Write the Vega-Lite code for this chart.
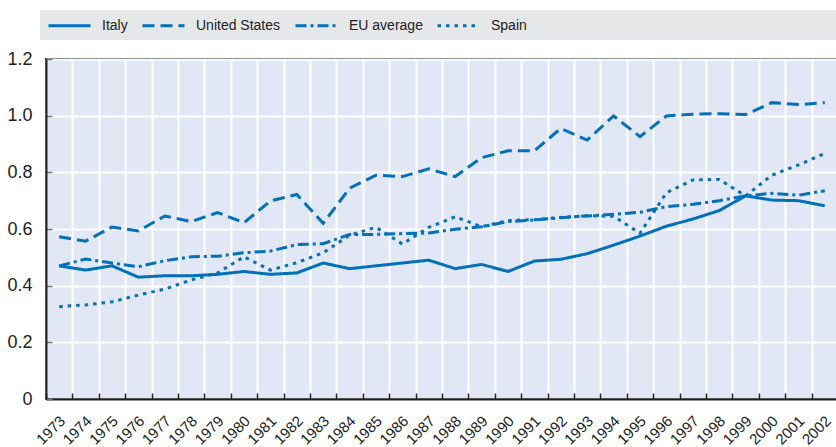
{
 "$schema": "https://vega.github.io/schema/vega-lite/v6.json",
 "width": 792,
 "height": 340,
 "autosize": {"type": "none"},
 "padding": {"left": 46, "top": 59, "right": 0, "bottom": 48},
 "background": "white",
 "config": {
  "font": "Liberation Sans",
  "view": {"fill": "#e1e7f4", "stroke": "#231f20", "strokeWidth": 2}
 },
 "datasets": {
  "d": [
   {"year":1973,"series":"Italy","value":0.47},{"year":1974,"series":"Italy","value":0.455},{"year":1975,"series":"Italy","value":0.47},{"year":1976,"series":"Italy","value":0.43},{"year":1977,"series":"Italy","value":0.435},{"year":1978,"series":"Italy","value":0.435},{"year":1979,"series":"Italy","value":0.44},{"year":1980,"series":"Italy","value":0.45},{"year":1981,"series":"Italy","value":0.44},{"year":1982,"series":"Italy","value":0.445},{"year":1983,"series":"Italy","value":0.48},{"year":1984,"series":"Italy","value":0.46},{"year":1985,"series":"Italy","value":0.47},{"year":1986,"series":"Italy","value":0.48},{"year":1987,"series":"Italy","value":0.49},{"year":1988,"series":"Italy","value":0.46},{"year":1989,"series":"Italy","value":0.475},{"year":1990,"series":"Italy","value":0.45},{"year":1991,"series":"Italy","value":0.487},{"year":1992,"series":"Italy","value":0.493},{"year":1993,"series":"Italy","value":0.513},{"year":1994,"series":"Italy","value":0.543},{"year":1995,"series":"Italy","value":0.575},{"year":1996,"series":"Italy","value":0.61},{"year":1997,"series":"Italy","value":0.635},{"year":1998,"series":"Italy","value":0.665},{"year":1999,"series":"Italy","value":0.717},{"year":2000,"series":"Italy","value":0.702},{"year":2001,"series":"Italy","value":0.70},{"year":2002,"series":"Italy","value":0.682},
   {"year":1973,"series":"United States","value":0.573},{"year":1974,"series":"United States","value":0.557},{"year":1975,"series":"United States","value":0.607},{"year":1976,"series":"United States","value":0.593},{"year":1977,"series":"United States","value":0.646},{"year":1978,"series":"United States","value":0.626},{"year":1979,"series":"United States","value":0.658},{"year":1980,"series":"United States","value":0.622},{"year":1981,"series":"United States","value":0.699},{"year":1982,"series":"United States","value":0.722},{"year":1983,"series":"United States","value":0.62},{"year":1984,"series":"United States","value":0.744},{"year":1985,"series":"United States","value":0.79},{"year":1986,"series":"United States","value":0.785},{"year":1987,"series":"United States","value":0.812},{"year":1988,"series":"United States","value":0.785},{"year":1989,"series":"United States","value":0.852},{"year":1990,"series":"United States","value":0.876},{"year":1991,"series":"United States","value":0.876},{"year":1992,"series":"United States","value":0.955},{"year":1993,"series":"United States","value":0.914},{"year":1994,"series":"United States","value":0.999},{"year":1995,"series":"United States","value":0.926},{"year":1996,"series":"United States","value":0.999},{"year":1997,"series":"United States","value":1.005},{"year":1998,"series":"United States","value":1.007},{"year":1999,"series":"United States","value":1.004},{"year":2000,"series":"United States","value":1.046},{"year":2001,"series":"United States","value":1.039},{"year":2002,"series":"United States","value":1.046},
   {"year":1973,"series":"EU average","value":0.47},{"year":1974,"series":"EU average","value":0.494},{"year":1975,"series":"EU average","value":0.48},{"year":1976,"series":"EU average","value":0.467},{"year":1977,"series":"EU average","value":0.488},{"year":1978,"series":"EU average","value":0.502},{"year":1979,"series":"EU average","value":0.504},{"year":1980,"series":"EU average","value":0.516},{"year":1981,"series":"EU average","value":0.522},{"year":1982,"series":"EU average","value":0.545},{"year":1983,"series":"EU average","value":0.548},{"year":1984,"series":"EU average","value":0.581},{"year":1985,"series":"EU average","value":0.581},{"year":1986,"series":"EU average","value":0.584},{"year":1987,"series":"EU average","value":0.586},{"year":1988,"series":"EU average","value":0.599},{"year":1989,"series":"EU average","value":0.608},{"year":1990,"series":"EU average","value":0.626},{"year":1991,"series":"EU average","value":0.632},{"year":1992,"series":"EU average","value":0.64},{"year":1993,"series":"EU average","value":0.646},{"year":1994,"series":"EU average","value":0.652},{"year":1995,"series":"EU average","value":0.659},{"year":1996,"series":"EU average","value":0.679},{"year":1997,"series":"EU average","value":0.687},{"year":1998,"series":"EU average","value":0.70},{"year":1999,"series":"EU average","value":0.717},{"year":2000,"series":"EU average","value":0.726},{"year":2001,"series":"EU average","value":0.719},{"year":2002,"series":"EU average","value":0.735},
   {"year":1973,"series":"Spain","value":0.326},{"year":1974,"series":"Spain","value":0.332},{"year":1975,"series":"Spain","value":0.343},{"year":1976,"series":"Spain","value":0.367},{"year":1977,"series":"Spain","value":0.388},{"year":1978,"series":"Spain","value":0.42},{"year":1979,"series":"Spain","value":0.445},{"year":1980,"series":"Spain","value":0.502},{"year":1981,"series":"Spain","value":0.455},{"year":1982,"series":"Spain","value":0.481},{"year":1983,"series":"Spain","value":0.516},{"year":1984,"series":"Spain","value":0.578},{"year":1985,"series":"Spain","value":0.606},{"year":1986,"series":"Spain","value":0.547},{"year":1987,"series":"Spain","value":0.606},{"year":1988,"series":"Spain","value":0.643},{"year":1989,"series":"Spain","value":0.608},{"year":1990,"series":"Spain","value":0.63},{"year":1991,"series":"Spain","value":0.633},{"year":1992,"series":"Spain","value":0.641},{"year":1993,"series":"Spain","value":0.647},{"year":1994,"series":"Spain","value":0.645},{"year":1995,"series":"Spain","value":0.585},{"year":1996,"series":"Spain","value":0.728},{"year":1997,"series":"Spain","value":0.773},{"year":1998,"series":"Spain","value":0.775},{"year":1999,"series":"Spain","value":0.717},{"year":2000,"series":"Spain","value":0.79},{"year":2001,"series":"Spain","value":0.826},{"year":2002,"series":"Spain","value":0.867}
  ]
 },
 "data": {"name": "d"},
 "mark": {"type": "line", "strokeWidth": 3, "color": "#0070b8", "strokeCap": "butt", "clip": true},
 "encoding": {
  "x": {
   "field": "year", "type": "ordinal", "bandPosition": 0.5,
   "scale": {"type": "band", "paddingInner": 0, "paddingOuter": 0},
   "axis": {
    "title": null, "tickBand": "extent", "grid": true, "gridColor": "white", "gridWidth": 2, "gridOpacity": 1,
    "domainColor": "#231f20", "domainWidth": 2, "tickColor": "#231f20", "tickWidth": 1.5, "tickSize": -6,
    "labelAngle": -45, "labelAlign": "right", "labelBaseline": "top", "labelPadding": 20, "labelOffset": -2,
    "labelFontSize": 15, "labelColor": "#222", "labelFont": "Liberation Sans"
   }
  },
  "y": {
   "field": "value", "type": "quantitative",
   "scale": {"domain": [0, 1.2], "nice": false, "zero": true},
   "axis": {
    "title": null, "values": [0, 0.2, 0.4, 0.6, 0.8, 1.0, 1.2], "grid": true, "gridColor": "white", "gridWidth": 2, "gridOpacity": 1,
    "domainColor": "#231f20", "domainWidth": 2, "tickColor": "#777", "tickWidth": 1.5, "tickSize": -6,
    "labelExpr": "datum.value == 0 ? '0' : format(datum.value, '.1f')",
    "labelPadding": 20, "labelFontSize": 18, "labelColor": "#222", "labelFont": "Liberation Sans"
   }
  },
  "strokeDash": {
   "field": "series", "type": "nominal",
   "scale": {"domain": ["Italy", "United States", "EU average", "Spain"], "range": [[1, 0], [12, 6], [11, 4, 3, 4], [3.5, 5]]},
   "legend": {
    "orient": "none", "legendX": -6, "legendY": -49, "direction": "horizontal",
    "title": " ", "titleOrient": "right", "titlePadding": 330, "titleFontSize": 1, "titleAngle": 0, "titleBaseline": "middle",
    "fillColor": "#e6e7e9", "padding": 7,
    "symbolType": "M-3,0H3", "symbolSize": 196, "symbolOffset": 14, "symbolStrokeWidth": 3, "symbolStrokeColor": "#0070b8",
    "labelFontSize": 14, "labelColor": "#222", "labelFont": "Liberation Sans", "labelOffset": 24, "columnPadding": 8
   }
  }
 }
}
